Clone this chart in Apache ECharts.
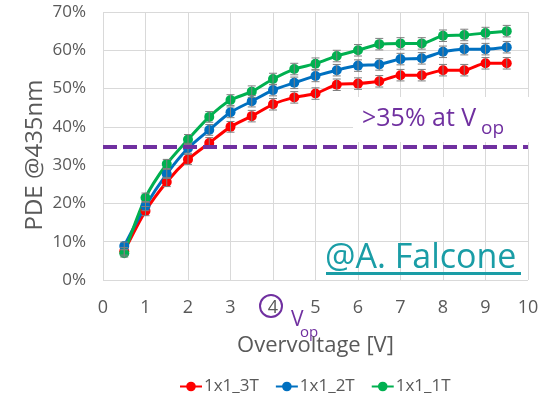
<!DOCTYPE html>
<html>
<head>
<meta charset="utf-8">
<script src="https://cdn.jsdelivr.net/npm/echarts@6/dist/echarts.min.js"></script>
<style>
  html, body { margin: 0; padding: 0; background: #fff; }
  #chart { width: 549px; height: 398px; }
</style>
</head>
<body>
<div id="chart"></div>
<script>
// overvoltage steps
var voltages = [0.5, 1, 1.5, 2, 2.5, 3, 3.5, 4, 4.5, 5, 5.5, 6, 6.5, 7, 7.5, 8, 8.5, 9, 9.5];

// PDE in %
var pde3T = [7.5, 18.0, 25.6, 31.5, 35.8, 40.0, 42.8, 45.9, 47.7, 48.7, 51.0, 51.3, 51.9, 53.5, 53.5, 54.8, 54.8, 56.6, 56.6];
var pde2T = [8.9, 19.3, 27.7, 34.4, 39.2, 43.8, 46.7, 49.6, 51.5, 53.3, 54.8, 56.0, 56.3, 57.7, 57.9, 59.6, 60.3, 60.3, 60.8];
var pde1T = [7.0, 21.5, 30.3, 36.7, 42.6, 47.0, 49.2, 52.5, 55.1, 56.5, 58.5, 60.0, 61.6, 61.8, 61.8, 63.8, 64.0, 64.5, 65.0];

// error bars (+/- %)
var err3T = [1.0, 1.2, 1.2, 1.3, 1.4, 1.4, 1.5, 1.5, 1.5, 1.5, 1.5, 1.5, 1.5, 1.5, 1.5, 1.5, 1.5, 1.5, 1.5];
var err2T = [1.0, 1.2, 1.2, 1.3, 1.4, 1.4, 1.5, 1.5, 1.5, 1.5, 1.5, 1.5, 1.5, 1.5, 1.5, 1.5, 1.5, 1.5, 1.5];
var err1T = [1.0, 1.2, 1.2, 1.3, 1.4, 1.4, 1.5, 1.5, 1.5, 1.5, 1.5, 1.5, 1.5, 1.5, 1.5, 1.5, 1.5, 1.5, 1.5];

var seriesNames = ['1x1_3T', '1x1_2T', '1x1_1T'];
var seriesColors = ['#FF0000', '#0070C0', '#00B050'];
var threshold = 34.7;

var FONT = '"Open Sans", sans-serif';
var GREY = '#595959';
var PURPLE = '#7030A0';
var TEAL = '#1A9DA6';

function pairs(ys) {
  return voltages.map(function (x, i) { return [x, ys[i]]; });
}

function errData(ys, es) {
  return voltages.map(function (x, i) { return [x, ys[i] - es[i], ys[i] + es[i]]; });
}

function renderErr(params, api) {
  var lo = api.coord([api.value(0), api.value(1)]);
  var hi = api.coord([api.value(0), api.value(2)]);
  var cap = 4;
  var st = { stroke: '#7F7F7F', lineWidth: 1 };
  return {
    type: 'group',
    children: [
      { type: 'line', shape: { x1: lo[0], y1: lo[1], x2: hi[0], y2: hi[1] }, style: st },
      { type: 'line', shape: { x1: lo[0] - cap, y1: lo[1], x2: lo[0] + cap, y2: lo[1] }, style: st },
      { type: 'line', shape: { x1: hi[0] - cap, y1: hi[1], x2: hi[0] + cap, y2: hi[1] }, style: st }
    ]
  };
}

function lineSeries(idx, ys) {
  return {
    name: seriesNames[idx],
    type: 'line',
    data: pairs(ys),
    smooth: 0.25,
    symbol: 'circle',
    symbolSize: 10,
    itemStyle: { color: seriesColors[idx] },
    lineStyle: { color: seriesColors[idx], width: 3 },
    z: 3
  };
}

function errSeries(ys, es) {
  return {
    type: 'custom',
    renderItem: renderErr,
    data: errData(ys, es),
    encode: { x: 0, y: [1, 2] },
    silent: true,
    z: 4
  };
}

var myChart = echarts.init(document.getElementById('chart'));

var s3 = lineSeries(0, pde3T);
s3.markLine = {
  silent: true,
  symbol: ['none', 'none'],
  label: { show: false },
  lineStyle: { color: PURPLE, width: 4, type: [14, 6] },
  data: [{ yAxis: threshold }]
};

myChart.setOption({
  animation: false,
  textStyle: { fontFamily: FONT },
  grid: { left: 103, right: 21, top: 12, bottom: 118 },
  xAxis: {
    type: 'value',
    min: 0,
    max: 10,
    interval: 1,
    name: 'Overvoltage [V]',
    nameLocation: 'middle',
    nameGap: 55,
    nameTextStyle: { fontSize: 22, color: GREY, fontFamily: FONT },
    axisLine: { show: false },
    axisTick: { show: false },
    axisLabel: { fontSize: 18, color: GREY, margin: 19, fontFamily: FONT },
    splitLine: { show: true, lineStyle: { color: '#D9D9D9', width: 1 } }
  },
  yAxis: {
    type: 'value',
    min: 0,
    max: 70,
    interval: 10,
    axisLine: { show: false },
    axisTick: { show: false },
    axisLabel: { formatter: '{value}%', fontSize: 17, color: GREY, margin: 17, fontFamily: FONT },
    splitLine: { show: true, lineStyle: { color: '#D9D9D9', width: 1 } }
  },
  legend: {
    data: seriesNames,
    left: 174,
    top: 373,
    itemWidth: 22,
    itemHeight: 12,
    itemGap: 16,
    textStyle: { fontSize: 17, color: GREY, fontFamily: FONT, padding: [0, 0, 0, -3] }
  },
  series: [
    s3,
    lineSeries(1, pde2T),
    lineSeries(2, pde1T),
    errSeries(pde3T, err3T),
    errSeries(pde2T, err2T),
    errSeries(pde1T, err1T)
  ],
  graphic: [
    {
      type: 'text', x: 35, y: 155, rotation: Math.PI / 2,
      style: { text: 'PDE @435nm', font: '24px ' + FONT, fill: GREY, align: 'center', verticalAlign: 'middle' }
    },
    {
      // white box behind the threshold note
      type: 'rect', z: 1, shape: { x: 353, y: 97, width: 176, height: 45 },
      style: { fill: '#FFFFFF' }
    },
    {
      type: 'text', z: 2, x: 362, y: 119,
      style: { text: '>35% at V', font: '25px ' + FONT, fill: PURPLE, align: 'left', verticalAlign: 'middle' }
    },
    {
      type: 'text', z: 2, x: 481, y: 129,
      style: { text: 'op', font: '19px ' + FONT, fill: PURPLE, align: 'left', verticalAlign: 'middle' }
    },
    {
      type: 'circle', shape: { cx: 271, cy: 306, r: 11 },
      style: { fill: 'none', stroke: PURPLE, lineWidth: 2 }
    },
    {
      type: 'text', x: 291, y: 320,
      style: { text: 'V', font: '21px ' + FONT, fill: PURPLE, align: 'left', verticalAlign: 'middle' }
    },
    {
      type: 'text', x: 300, y: 333,
      style: { text: 'op', font: '15px ' + FONT, fill: PURPLE, align: 'left', verticalAlign: 'middle' }
    },
    {
      type: 'text', z: 2, x: 325, y: 258,
      style: { text: '@A. Falcone', font: '34px ' + FONT, fill: TEAL, align: 'left', verticalAlign: 'middle' }
    },
    {
      type: 'rect', z: 2, shape: { x: 326, y: 272, width: 195, height: 3 },
      style: { fill: TEAL }
    }
  ]
});
</script>
</body>
</html>
